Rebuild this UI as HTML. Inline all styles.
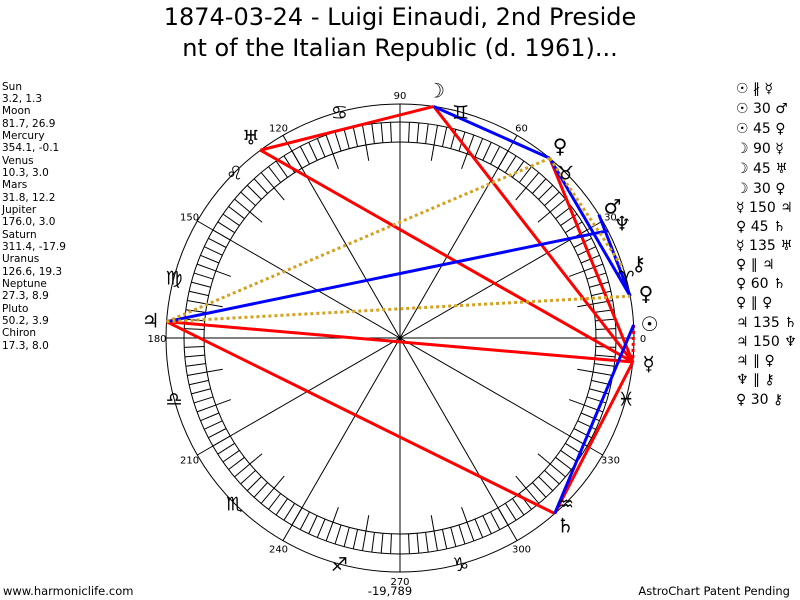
<!DOCTYPE html>
<html><head><meta charset="utf-8"><style>
body{margin:0;background:#fff;width:800px;height:600px;overflow:hidden;font-family:"DejaVu Sans",sans-serif}
svg{position:absolute;left:0;top:0}
</style></head><body>
<svg id="s" width="800" height="600" xmlns="http://www.w3.org/2000/svg" font-family="DejaVu Sans, sans-serif">
<text x="400" y="25" font-size="24" text-anchor="middle">1874-03-24 - Luigi Einaudi, 2nd Preside</text>
<text x="400" y="56" font-size="24" text-anchor="middle">nt of the Italian Republic (d. 1961)...</text>
<g font-size="10.5" fill="#000">
<text x="2" y="90">Sun</text><text x="2" y="102">3.2, 1.3</text>
<text x="2" y="114">Moon</text><text x="2" y="127">81.7, 26.9</text>
<text x="2" y="139">Mercury</text><text x="2" y="151">354.1, -0.1</text>
<text x="2" y="164">Venus</text><text x="2" y="176">10.3, 3.0</text>
<text x="2" y="188">Mars</text><text x="2" y="201">31.8, 12.2</text>
<text x="2" y="213">Jupiter</text><text x="2" y="225">176.0, 3.0</text>
<text x="2" y="238">Saturn</text><text x="2" y="250">311.4, -17.9</text>
<text x="2" y="262">Uranus</text><text x="2" y="275">126.6, 19.3</text>
<text x="2" y="287">Neptune</text><text x="2" y="299">27.3, 8.9</text>
<text x="2" y="312">Pluto</text><text x="2" y="324">50.2, 3.9</text>
<text x="2" y="336">Chiron</text><text x="2" y="349">17.3, 8.0</text>
</g>
<g font-size="14">
<text x="736" y="93">☉ ∦ ☿</text>
<text x="736" y="113">☉ 30 ♂</text>
<text x="736" y="133">☉ 45 ♀</text>
<text x="736" y="153">☽ 90 ☿</text>
<text x="736" y="173">☽ 45 ♅</text>
<text x="736" y="193">☽ 30 ♀</text>
<text x="736" y="212">☿ 150 ♃</text>
<text x="736" y="231">♀ 45 ♄</text>
<text x="736" y="250">☿ 135 ♅</text>
<text x="736" y="269">♀ ∥ ♃</text>
<text x="736" y="288">♀ 60 ♄</text>
<text x="736" y="307">♀ ∥ ♀</text>
<text x="736" y="327">♃ 135 ♄</text>
<text x="736" y="346">♃ 150 ♆</text>
<text x="736" y="365">♃ ∥ ♀</text>
<text x="736" y="384">♆ ∥ ⚷</text>
<text x="736" y="404">♀ 30 ⚷</text>
</g>
<text x="3" y="595" font-size="11.5">www.harmoniclife.com</text>
<text x="390" y="595" font-size="11.5" text-anchor="middle">-19,789</text>
<text x="790" y="595" font-size="11.5" text-anchor="end">AstroChart Patent Pending</text>
<g id="w" fill="none" stroke="#000" stroke-width="1"></g>
<g id="a"></g>
<g id="g"></g>
</svg>
<script>
const cx=400,cy=338,R=234,r1=216,r2=196,NS="http://www.w3.org/2000/svg";
function P(a,r){a=a*Math.PI/180;return[cx+r*Math.cos(a),cy-r*Math.sin(a)]}
function el(p,t,at,txt){const e=document.createElementNS(NS,t);for(const k in at)e.setAttribute(k,at[k]);if(txt)e.textContent=txt;document.getElementById(p).appendChild(e);return e}
el('w','circle',{cx,cy,r:R});el('w','circle',{cx,cy,r:r1});el('w','circle',{cx,cy,r:r2});
for(let d=0;d<360;d+=2.5){const a=P(d,r1),b=P(d,r2);el('w','line',{x1:a[0],y1:a[1],x2:b[0],y2:b[1]})}
for(let d=0;d<360;d+=10){if(d%30==0)continue;const a=P(d,r2),b=P(d,r2-16);el('w','line',{x1:a[0],y1:a[1],x2:b[0],y2:b[1]})}
for(let d=0;d<180;d+=30){const a=P(d,R),b=P(d+180,R);el('w','line',{x1:a[0],y1:a[1],x2:b[0],y2:b[1]})}
for(let d=0;d<360;d+=30){const p=P(d,R+9);el('g','text',{x:p[0],y:p[1]+4,'font-size':10,'text-anchor':'middle'},String(d))}
const signs="♈♉♊♋♌♍♎♏♐♑♒♓";
for(let i=0;i<12;i++){const p=P(i*30+15,R);el('g','text',{x:p[0],y:p[1]+7,'font-size':19,'text-anchor':'middle'},signs[i])}
const pl={su:3.2,mo:81.7,me:354.1,ve:10.3,ma:31.8,ju:176,sa:311.4,ur:126.6,ne:27.3,pl:50.2,ch:17.3};
const gl={su:'☉',mo:'☽',me:'☿',ve:'♀',ma:'♂',ju:'♃',sa:'♄',ur:'♅',ne:'♆',pl:'♀',ch:'⚷'};
function L(a,b,c,dash){const p=P(pl[a],R),q=P(pl[b],R);const at={x1:p[0],y1:p[1],x2:q[0],y2:q[1],stroke:c,'stroke-width':3};if(dash)at['stroke-dasharray']='3,3';el('a','line',at)}
const red='#f00',blue='#00f',gold='#d4a020';
L('mo','ur',red);L('ur','me',red);L('mo','me',red);L('ju','me',red);L('ju','sa',red);L('sa','me',red);L('pl','me',red);L('su','me',red,1);
L('mo','pl',blue);L('pl','ve',blue);L('ju','ne',blue);L('sa','su',blue);L('ma','ve',blue);
L('ju','pl',gold,1);L('ju','ve',gold,1);L('pl','ch',gold,1);
for(const k in pl){const p=P(pl[k],R+16);el('g','text',{x:p[0],y:p[1]+7,'font-size':20,'text-anchor':'middle'},gl[k])}
</script>
</body></html>
